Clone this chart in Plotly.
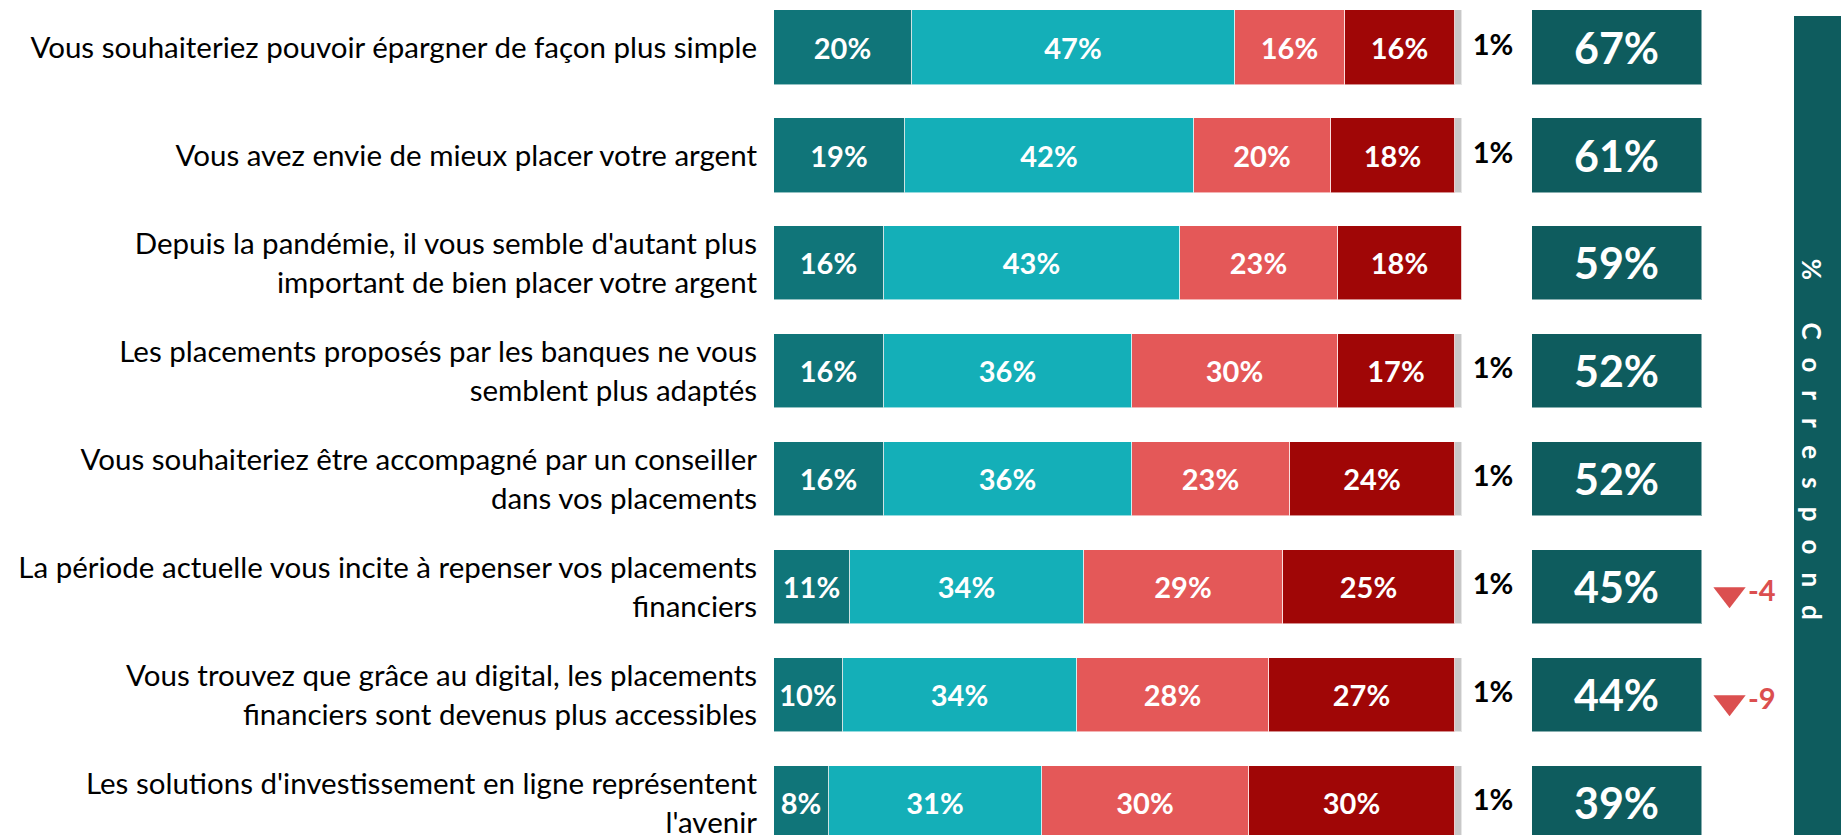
import plotly.graph_objects as go

# ---------------- data ----------------
categories = [
    "Vous souhaiteriez pouvoir épargner de façon plus simple",
    "Vous avez envie de mieux placer votre argent",
    "Depuis la pandémie, il vous semble d'autant plus<br>important de bien placer votre argent",
    "Les placements proposés par les banques ne vous<br>semblent plus adaptés",
    "Vous souhaiteriez être accompagné par un conseiller<br>dans vos placements",
    "La période actuelle vous incite à repenser vos placements<br>financiers",
    "Vous trouvez que grâce au digital, les placements<br>financiers sont devenus plus accessibles",
    "Les solutions d'investissement en ligne représentent<br>l'avenir",
]
tout_a_fait = [20, 19, 16, 16, 16, 11, 10, 8]
plutot = [47, 42, 43, 36, 36, 34, 34, 31]
plutot_pas = [16, 20, 23, 30, 23, 29, 28, 30]
pas_du_tout = [16, 18, 18, 17, 24, 25, 27, 30]
nsp = [1, 1, 0, 1, 1, 1, 1, 1]
total_correspond = [67, 61, 59, 52, 52, 45, 44, 39]
evolution = [None, None, None, None, None, -4, -9, None]

series_names = ["Tout à fait", "Plutôt", "Plutôt pas", "Pas du tout", "NSP"]
series_values = [tout_a_fait, plutot, plutot_pas, pas_du_tout, nsp]
series_colors = ["#107579", "#14AFB8", "#E45858", "#A00606", "#C8C8C8"]

# ---------------- layout constants ----------------
W, H = 1841, 839
FONT = "Lato"
BAR_W = 0.69
ROW0, STEP = 47.5, 108.5  # px of first row centre, px between rows
y_top = -ROW0 / STEP
y_bot = (H - ROW0) / STEP
ARROW_SHIFT = 7 / STEP

def px_x(a, b):
    return [a / W, b / W]

fig = go.Figure()

# main stacked bars
for name, vals, col in zip(series_names, series_values, series_colors):
    is_nsp = name == "NSP"
    fig.add_trace(go.Bar(
        y=categories, x=vals, name=name, orientation="h",
        marker=dict(color=col, line=dict(color="rgba(255,255,255,0.55)", width=1)),
        width=BAR_W,
        text=None if is_nsp else [f"{v}%" for v in vals],
        textposition="none" if is_nsp else "inside",
        insidetextanchor="middle", textangle=0, constraintext="none",
        textfont=dict(family=FONT, size=29, color="white", weight="bold"),
        hoverinfo="skip", xaxis="x", yaxis="y",
    ))

# "1%" NSP labels
fig.add_trace(go.Scatter(
    y=categories, x=[0.5] * len(categories), mode="text",
    text=[f"{v}%" if v else "" for v in nsp],
    textfont=dict(family=FONT, size=29, color="black", weight="bold"),
    xaxis="x3", yaxis="y", hoverinfo="skip", showlegend=False,
))

# total boxes
fig.add_trace(go.Bar(
    y=categories, x=[1] * len(categories), orientation="h", width=BAR_W,
    marker=dict(color="#0E5C5E", line=dict(color="rgba(255,255,255,0.5)", width=1)),
    text=[f"{v}%" for v in total_correspond], textposition="inside",
    insidetextanchor="middle", textangle=0, constraintext="none",
    textfont=dict(family=FONT, size=43, color="white", weight="bold"),
    xaxis="x2", yaxis="y", hoverinfo="skip", showlegend=False,
))

# evolution arrows
ev_y = [c for c, e in zip(categories, evolution) if e is not None]
ev_t = [f"{e}" for e in evolution if e is not None]
fig.add_trace(go.Scatter(
    y=ev_y, x=[0.28] * len(ev_y), mode="markers+text",
    marker=dict(symbol="triangle-down", size=28, color="#DB4F4F"),
    text=ev_t, textposition="middle right",
    textfont=dict(family=FONT, size=29, color="#DB4F4F", weight="bold"),
    xaxis="x4", yaxis="y2", hoverinfo="skip", showlegend=False,
))

# side band
fig.add_shape(type="rect", xref="paper", yref="paper",
              x0=1794 / W, x1=1.0, y0=0, y1=1 - 16 / H,
              fillcolor="#0E5C5E", line=dict(width=0), layer="below")
fig.add_annotation(
    xref="paper", yref="paper", x=1830 / W, y=1 - 450 / H,
    text='<span style="letter-spacing:18px">% Correspond</span>',
    textangle=90, showarrow=False,
    font=dict(family=FONT, size=26, color="white", weight="bold"),
)

fig.update_layout(
    width=W, height=H, margin=dict(l=0, r=0, t=0, b=0),
    paper_bgcolor="white", plot_bgcolor="white",
    barmode="stack", bargap=0, showlegend=False,
    font=dict(family=FONT),
    xaxis=dict(domain=px_x(774, 1462), range=[0, 100], visible=False),
    xaxis2=dict(domain=px_x(1532, 1702), range=[0, 1], visible=False, anchor="y"),
    xaxis3=dict(domain=px_x(1470, 1516), range=[0, 1], visible=False, anchor="y"),
    xaxis4=dict(domain=px_x(1706, 1790), range=[0, 1], visible=False, anchor="y2"),
    yaxis=dict(domain=[0, 1], range=[y_bot, y_top], type="category",
               categoryorder="array", categoryarray=categories,
               showgrid=False, zeroline=False, showline=False, ticks="",
               tickfont=dict(family=FONT, size=29.5, color="black"),
               ticklabelstandoff=16, anchor="x"),
    yaxis2=dict(domain=[0, 1], range=[y_bot - ARROW_SHIFT, y_top - ARROW_SHIFT],
                type="category", categoryorder="array", categoryarray=categories,
                visible=False, overlaying="y", anchor="x4"),
)

fig.write_html(
    "out.html",
    config={"displayModeBar": False},
    post_script="document.body.style.margin='0';document.body.style.overflow='hidden';",
)
